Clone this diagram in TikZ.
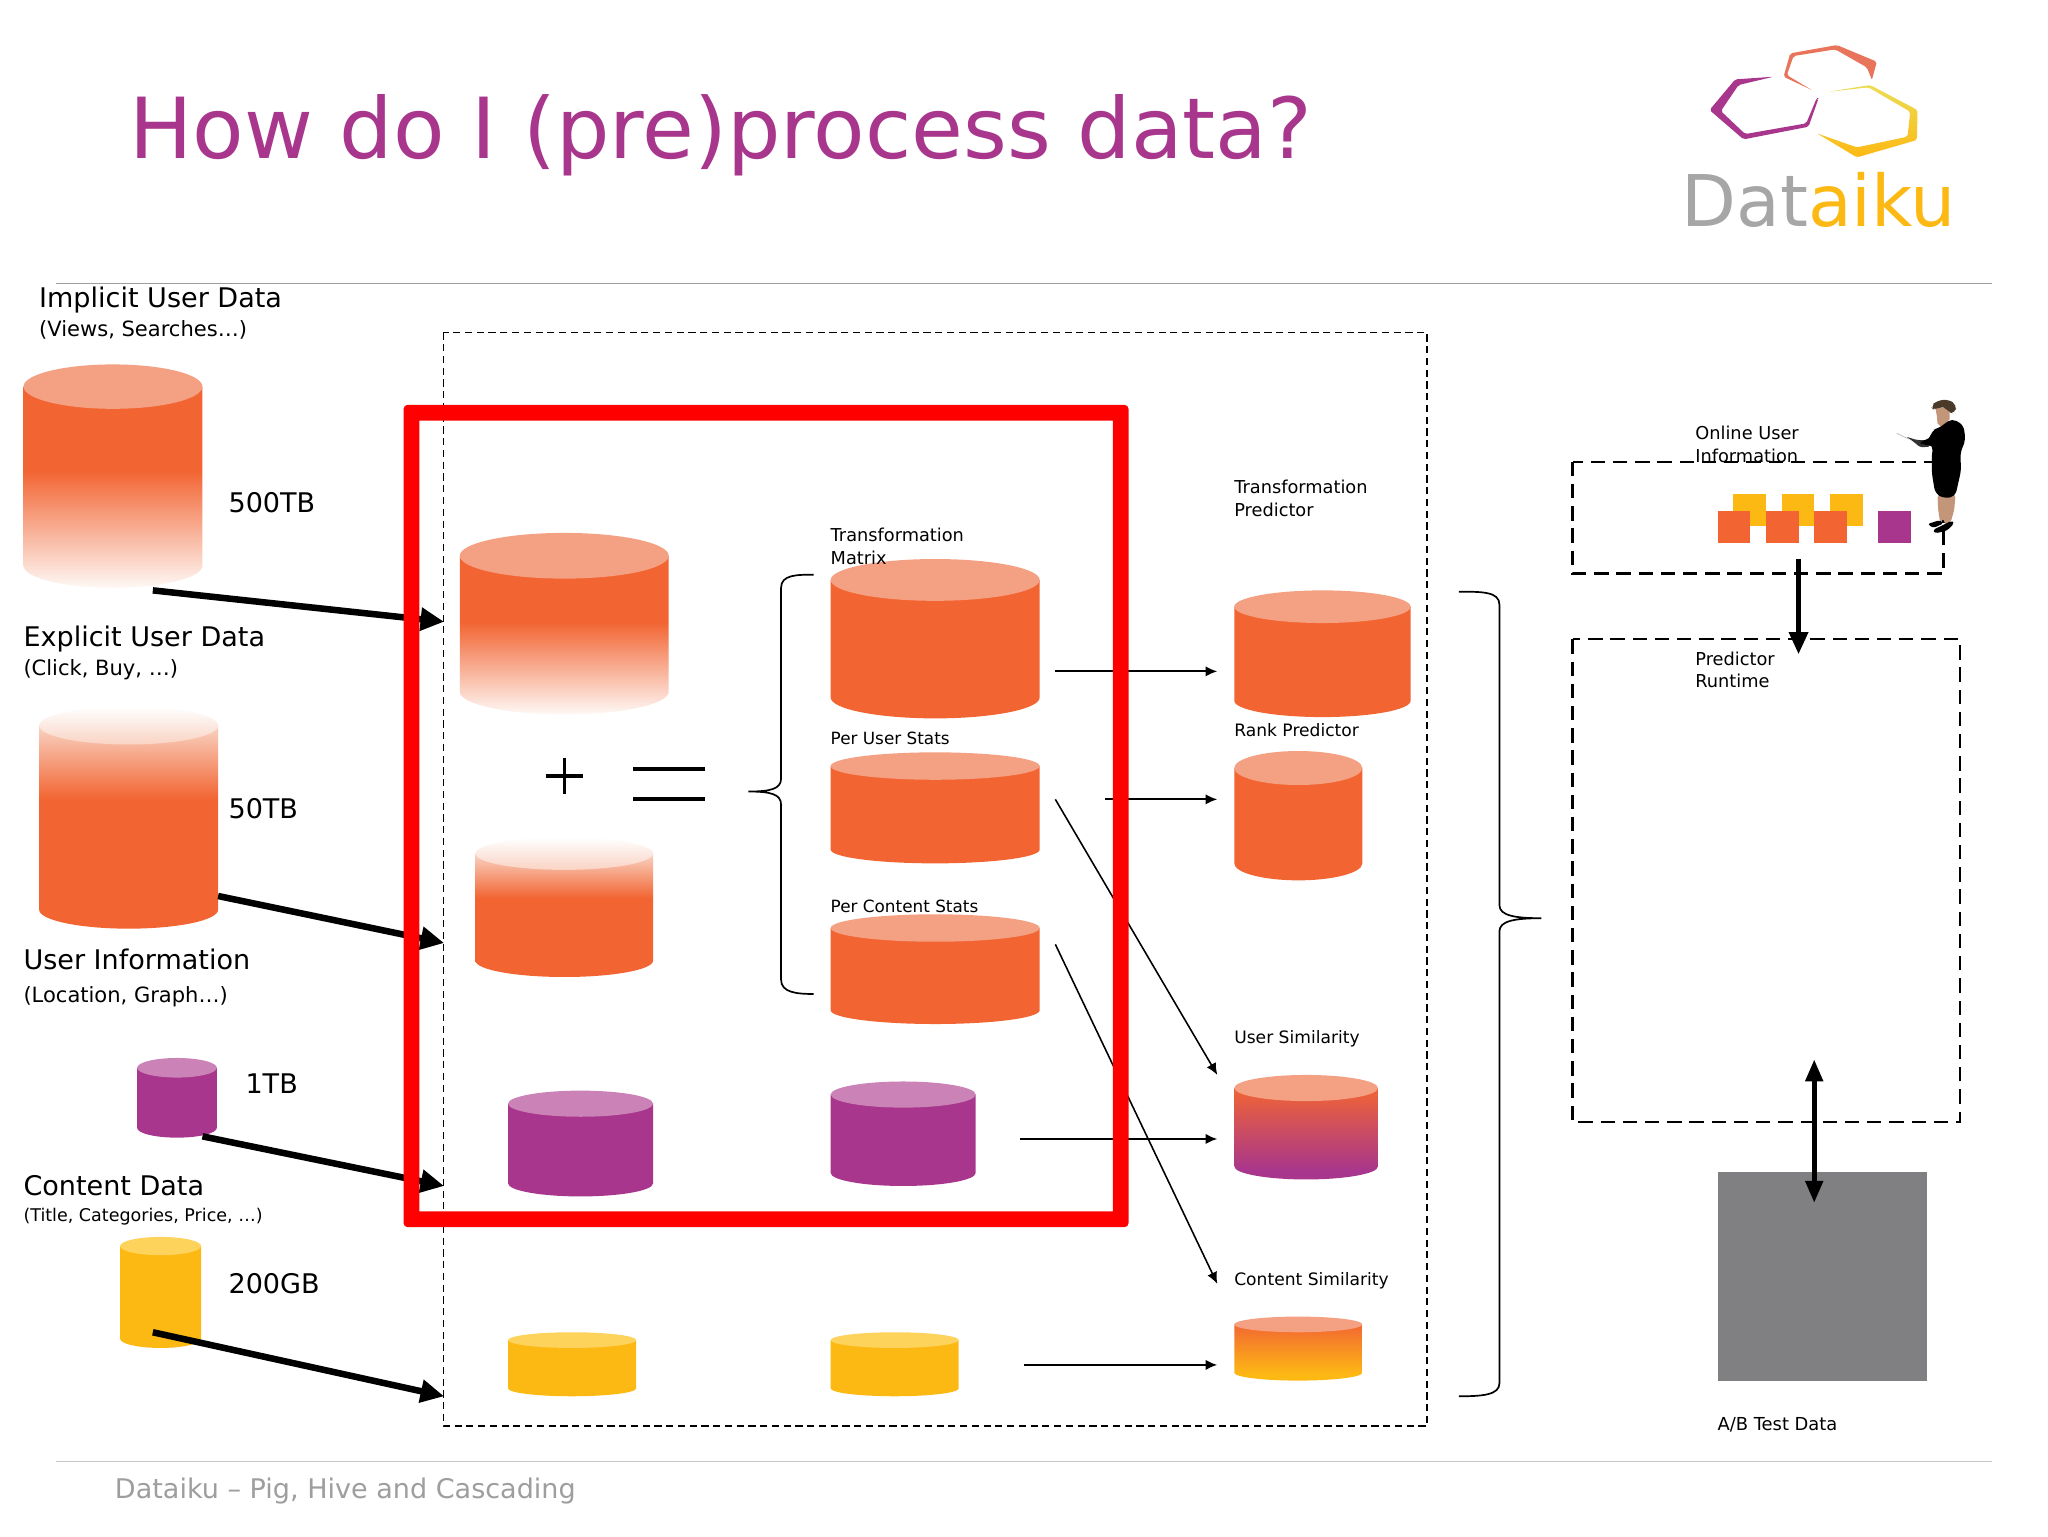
\documentclass[tikz,border=0pt]{standalone}
\usepackage{fontspec}
\setmainfont{DejaVu Sans}
\usetikzlibrary{arrows.meta}
\definecolor{cO}{HTML}{F26533}
\definecolor{cOt}{HTML}{F4A083}
\definecolor{cP}{HTML}{A8368C}
\definecolor{cPt}{HTML}{CB82B7}
\definecolor{cY}{HTML}{FDB913}
\definecolor{cYt}{HTML}{FDD35C}
\definecolor{cFadeA}{HTML}{FEF8F5}
\definecolor{cFadeB}{HTML}{F9D3C3}
\definecolor{cGrayBox}{HTML}{808083}
\definecolor{cSkin}{HTML}{C39579}
\definecolor{cHair}{HTML}{4A3A2A}
\definecolor{cSalmon}{HTML}{E8745C}
\definecolor{cYpale}{HTML}{EBDD55}
\pgfdeclareverticalshading{fadeBot}{100bp}{color(0bp)=(white); color(25bp)=(cFadeA); color(54bp)=(cO); color(100bp)=(cO)}
\pgfdeclareverticalshading{fadeTop}{100bp}{color(0bp)=(cO); color(57bp)=(cO); color(75bp)=(cFadeB); color(100bp)=(cFadeB)}
\pgfdeclareverticalshading{toPurple}{100bp}{color(0bp)=(cP); color(30bp)=(cP); color(72bp)=(cO!92!cP); color(100bp)=(cO)}
\pgfdeclareverticalshading{toYellow}{100bp}{color(0bp)=(cY); color(30bp)=(cY); color(72bp)=(cO!90!cY); color(100bp)=(cO)}
\newcommand{\cylshape}[7]{% name x0 x1 ytop yell ybot body-options
  \pgfmathsetmacro{\rx}{(#3-#2)/2}\pgfmathsetmacro{\ry}{(#5-#4)/2}
  \pgfmathsetmacro{\xc}{(#2+#3)/2}\pgfmathsetmacro{\cyy}{#4+\ry}
  \pgfmathsetmacro{\yb}{#6-\ry}
  \pgfmathsetmacro{\ka}{0.5523*\rx}\pgfmathsetmacro{\kb}{0.5523*\ry}
  \path[#7] (#2,\cyy) -- (#2,\yb) .. controls (#2,\yb+\kb) and (\xc-\ka,#6) .. (\xc,#6)
     .. controls (\xc+\ka,#6) and (#3,\yb+\kb) .. (#3,\yb) -- (#3,\cyy) -- cycle;
  \coordinate (#1) at (\xc,\cyy);
}
\newcommand{\cyltop}[2]{\path[#2] (#1) ellipse [x radius=\rx, y radius=\ry];}
\tikzset{
  canvas/.style={x=1pt,y=-1pt},
  rulegray/.style={line width=1.3pt,draw=#1},
  txt/.style={anchor=base west,inner sep=0pt,outer sep=0pt,text=black},
  two/.style={anchor=north west,inner sep=0pt,outer sep=0pt,align=left,text=black},
  big/.style={font=\fontsize{20.7}{25}\selectfont},
  mid/.style={font=\fontsize{16.1}{20}\selectfont},
  small/.style={font=\fontsize{13.6}{17.4}\selectfont},
  smaller/.style={font=\fontsize{13.1}{16}\selectfont},
  thin arrow/.style={line width=1.5pt,-{Latex[length=9pt,width=8pt]}},
  diag arrow/.style={line width=1.2pt,-{Latex[length=9pt,width=8pt]}},
  thick arrow/.style={line width=5pt,draw=black,-{Triangle[length=18pt,width=17pt]}},
  bold arrow/.style={line width=4pt,draw=black,-{Triangle[length=17pt,width=14pt]}},
  outer dash/.style={line width=1.4pt,dash pattern=on 5.5pt off 3.5pt},
  box dash/.style={line width=1.7pt,dash pattern=on 11pt off 6pt},
  sq/.style={minimum size=25pt,inner sep=0pt,outer sep=0pt,anchor=north west},
}
\begin{document}
\begin{tikzpicture}[canvas]
\useasboundingbox (0,0) rectangle (1568,1176);
\fill[white] (0,0) rectangle (1568,1176);
% rules
\draw[rulegray={black!38}] (43,217) -- (1525,217);
\draw[rulegray={black!22}] (43,1119) -- (1525,1119);
% title
\node[txt,text=cP,font=\fontsize{64.5}{70}\selectfont] (title) at (99,121) {How do I (pre)process data?};
% logo
\begin{scope}[shift={(1286.4,23)}]
\begin{scope}[x=0.2552pt,y=-0.2552pt,rounded corners=1.5pt]
\fill[cP] (280,140) -- (165,148) -- (88,240) -- (190,328) -- (385,290) -- (415,205) -- (410,203) -- (378,280) -- (195,312) -- (122,243) -- (175,165) -- cycle;
\fill[cSalmon] (395,180) -- (310,140) -- (330,70) -- (470,45) -- (590,95) -- (575,150) -- (560,112) -- (465,58) -- (340,78) -- (320,135) -- cycle;
\shade[top color=cYpale,bottom color=cY] (445,185) -- (570,165) -- (712,240) -- (710,330) -- (530,382) -- (410,310) -- (530,352) -- (682,320) -- (690,245) -- (565,172) -- cycle;
\end{scope}
\end{scope}
\node[txt,font=\fontsize{54.6}{56}\selectfont] (logotext) at (1287.5,173.5) {\textcolor{black!35}{Dat}\textcolor{cY}{aiku}};
% left cylinders
\cylshape{cA}{18}{155}{279}{313}{450}{shade,shading=fadeBot}\cyltop{cA}{fill=cOt}
\cylshape{cB}{30}{167}{541}{570}{711}{shade,shading=fadeTop}\cyltop{cB}{top color=white,bottom color=cFadeB}
\cylshape{cC}{105}{166}{810}{825}{871}{fill=cP}\cyltop{cC}{fill=cPt}
\cylshape{cD}{92}{154}{947}{961}{1032}{fill=cY}\cyltop{cD}{fill=cYt}
% middle-left cylinders
\cylshape{cE}{352}{512}{408}{443}{547}{shade,shading=fadeBot}\cyltop{cE}{fill=cOt}
\cylshape{cF}{364}{500}{641}{666}{748}{shade,shading=fadeTop}\cyltop{cF}{top color=white,bottom color=cFadeB}
\cylshape{cG}{389}{500}{835}{855}{916}{fill=cP}\cyltop{cG}{fill=cPt}
\cylshape{cH}{389}{487}{1020}{1032}{1069}{fill=cY}\cyltop{cH}{fill=cYt}
% derived cylinders
\cylshape{cI}{636}{796}{428}{460}{550}{fill=cO}\cyltop{cI}{fill=cOt}
\cylshape{cJ}{636}{796}{576}{597}{661}{fill=cO}\cyltop{cJ}{fill=cOt}
\cylshape{cK}{636}{796}{700}{721}{784}{fill=cO}\cyltop{cK}{fill=cOt}
\cylshape{cL}{636}{747}{828}{848}{908}{fill=cP}\cyltop{cL}{fill=cPt}
\cylshape{cM}{636}{734}{1020}{1032}{1069}{fill=cY}\cyltop{cM}{fill=cYt}
% predictor cylinders
\cylshape{cN}{945}{1080}{452}{477}{549}{fill=cO}\cyltop{cN}{fill=cOt}
\cylshape{cO1}{945}{1043}{575}{601}{674}{fill=cO}\cyltop{cO1}{fill=cOt}
\cylshape{cP1}{945}{1055}{823}{843}{903}{shade,shading=toPurple}\cyltop{cP1}{fill=cOt}
\cylshape{cQ}{945}{1043}{1008}{1020}{1057}{shade,shading=toYellow}\cyltop{cQ}{fill=cOt}
% plus, equals
\draw[line width=2.6pt] (418,594) -- (446,594) (432,580) -- (432,608);
\draw[line width=3pt] (485,589) -- (540,589) (485,612) -- (540,612);
% braces
\draw[line width=1.3pt] (623,440) .. controls (610,440) and (598,440) .. (598,450) -- (598,596) .. controls (598,604) and (590,606) .. (573,606) .. controls (590,606) and (598,608) .. (598,616) -- (598,750) .. controls (598,760) and (610,761) .. (623,761);
\draw[line width=1.3pt] (1117,453) .. controls (1135,453) and (1148,453) .. (1148,463) -- (1148,693) .. controls (1148,701) and (1160,703) .. (1180,703) .. controls (1160,703) and (1148,705) .. (1148,713) -- (1148,1059) .. controls (1148,1068) and (1135,1069) .. (1117,1069);
% outer dashed box
\draw[outer dash] (339.5,254.5) rectangle (1092.5,1092);
% labels: left
\node[txt,big] (l1) at (30,235.5) {Implicit User Data};
\node[txt,mid] (l1b) at (30,258) {(Views, Searches…)};
\node[txt,big] (s1) at (175,392.5) {500TB};
\node[txt,big] (l2) at (18,495) {Explicit User Data};
\node[txt,mid] (l2b) at (18,517.5) {(Click, Buy, …)};
\node[txt,big] (s2) at (175,627) {50TB};
\node[txt,big] (l3) at (18,742) {User Information};
\node[txt,mid] (l3b) at (18,767.5) {(Location, Graph…)};
\node[txt,big] (s3) at (188,837) {1TB};
\node[txt,big] (l4) at (18,915) {Content Data};
\node[txt,font=\fontsize{13.4}{16}\selectfont] (l4b) at (18,935) {(Title, Categories, Price, …)};
\node[txt,big] (s4) at (175,990) {200GB};
\node[txt,font=\fontsize{20.7}{24}\selectfont,text=black!38] (foot) at (88,1147) {Dataiku – Pig, Hive and Cascading};
% labels: middle
\node[two,small] (t1) at (636,404.5) {Transformation\\Matrix};
\node[txt,font=\fontsize{12.9}{16}\selectfont] (t2) at (636,570) {Per User Stats};
\node[txt,font=\fontsize{12.9}{16}\selectfont] (t3) at (636,699) {Per Content Stats};
\node[two,small] (t4) at (945,367.5) {Transformation\\Predictor};
\node[txt,smaller] (t5) at (945,564) {Rank Predictor};
\node[txt,smaller] (t6) at (945,799) {User Similarity};
\node[txt,smaller] (t7) at (945,984) {Content Similarity};
\node[two,small] (t8) at (1298,326) {Online User\\Information};
\node[two,small] (t9) at (1298,499) {Predictor\\Runtime};
\node[txt,font=\fontsize{13.7}{16}\selectfont] (t10) at (1315,1095) {A/B Test Data};
% thin arrows
\coordinate (f1) at (808,514); \coordinate (g1) at (932,514);
\coordinate (f2) at (846,612); \coordinate (g2) at (932,612);
\coordinate (f3) at (808,612); \coordinate (g3) at (932,823);
\coordinate (f4) at (808,723); \coordinate (g4) at (932,983);
\coordinate (f5) at (781,872); \coordinate (g5) at (932,872);
\coordinate (f6) at (784,1045); \coordinate (g6) at (932,1045);
\draw[thin arrow] (f1) -- (g1);
\draw[thin arrow] (f2) -- (g2);
\draw[diag arrow] (f3) -- (g3);
\draw[diag arrow] (f4) -- (g4);
\draw[thin arrow] (f5) -- (g5);
\draw[thin arrow] (f6) -- (g6);
% thick arrows
\coordinate (h1) at (117,452); \coordinate (k1) at (340,476);
\coordinate (h2) at (167,686); \coordinate (k2) at (340,722);
\coordinate (h3) at (155,870); \coordinate (k3) at (340,908);
\coordinate (h4) at (117,1020); \coordinate (k4) at (340,1069);
\draw[thick arrow] (h1) -- (k1);
\draw[thick arrow] (h2) -- (k2);
\draw[thick arrow] (h3) -- (k3);
\draw[thick arrow] (h4) -- (k4);
% right side
\draw[box dash] (1204,353.5) rectangle (1488,439);
\draw[box dash] (1204,489.5) rectangle (1500.5,859);
\node[sq,fill=cY] (y1) at (1327,378) {};
\node[sq,fill=cY] (y2) at (1364,378) {};
\node[sq,fill=cY] (y3) at (1401,378) {};
\node[sq,fill=cO] (o1) at (1315,391) {};
\node[sq,fill=cO] (o2) at (1352,391) {};
\node[sq,fill=cO] (o3) at (1389,391) {};
\node[sq,fill=cP] (p1) at (1438,391) {};
\fill[cGrayBox] (1315,897) rectangle (1475,1057);
\coordinate (v1) at (1377,428); \coordinate (v2) at (1377,501);
\coordinate (w1) at (1389,811); \coordinate (w2) at (1389,921);
\draw[bold arrow] (v1) -- (v2);
\draw[line width=4pt,{Triangle[length=17pt,width=13pt]}-{Triangle[length=17pt,width=13pt]}] (w1) -- (w2);
% person
\begin{scope}[shift={(1439.5,298.6)}]
\begin{scope}[x=0.2552pt,y=-0.2552pt]
\draw[black!25,line width=0.6pt] (50,130) -- (85,147);
\fill[black!80,rounded corners=1.5pt] (78,140) -- (110,150) -- (150,150) -- (150,170) -- (120,172) -- (100,155) -- cycle;
\fill[cSkin,rounded corners=2pt] (172,315) -- (226,315) -- (222,360) -- (212,395) -- (195,405) -- (190,385) -- (180,398) -- (174,360) -- cycle;
\fill[black,rounded corners=2pt] (142,402) -- (180,390) -- (190,400) -- (160,414) -- cycle;
\fill[black,rounded corners=2pt] (158,420) -- (215,392) -- (222,400) -- (200,422) -- (165,430) -- cycle;
\fill[cSkin] (165,50) -- (208,55) -- (208,88) -- (185,112) -- (172,100) -- (170,78) -- cycle;
\fill[cHair,rounded corners=4pt] (150,50) -- (170,32) -- (205,28) -- (230,45) -- (225,70) -- (205,68) -- (190,45) -- (165,62) -- cycle;
\fill[black,rounded corners=4pt] (175,115) -- (215,85) -- (250,105) -- (256,150) -- (240,190) -- (243,240) -- (225,320) -- (190,325) -- (165,310) -- (155,250) -- (155,190) -- (160,165) -- (125,165) -- (118,152) -- (150,148) -- (155,120) -- cycle;
\end{scope}
\end{scope}
% red frame
\fill[red,even odd rule,rounded corners=3pt] (309,310) rectangle (864,939.5) [sharp corners] (321,322) rectangle (852,927.5);
\end{tikzpicture}
\end{document}
